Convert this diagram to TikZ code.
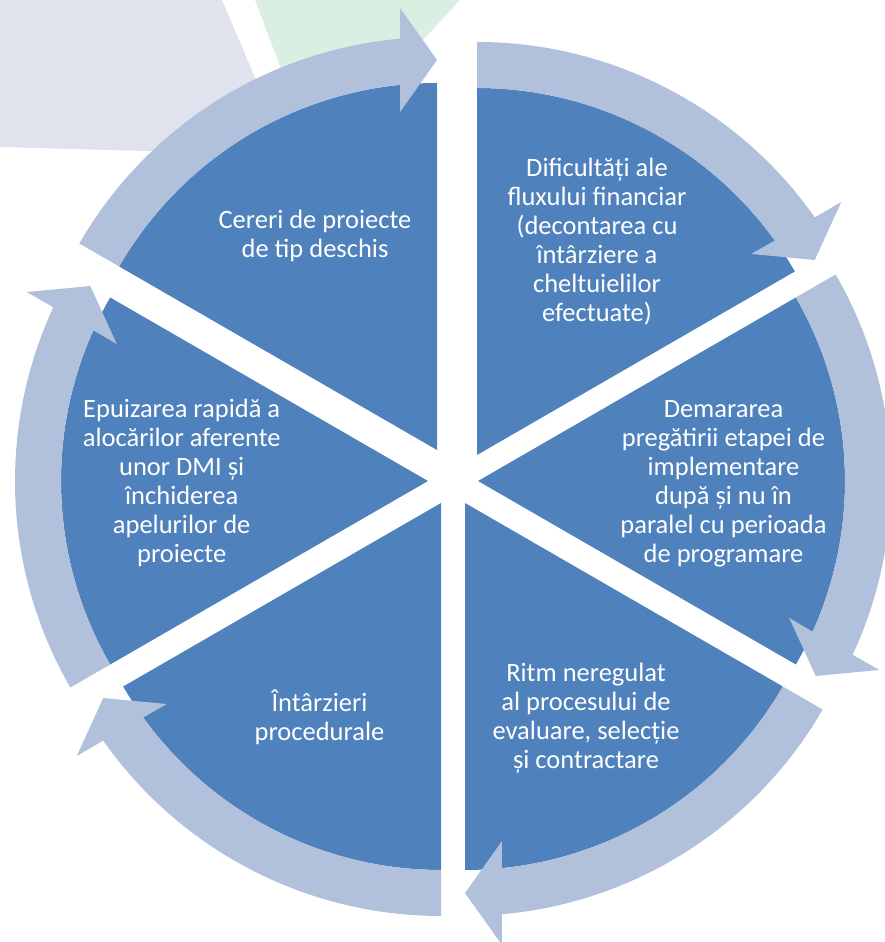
\documentclass[tikz,border=0pt]{standalone}
\usepackage{fontspec}
\setmainfont{Carlito}
\usetikzlibrary{calc}
\definecolor{wedgeblue}{HTML}{4F81BD}
\definecolor{bandblue}{HTML}{B2C1DB}
\definecolor{bggray}{HTML}{E0E3ED}
\definecolor{bggreen}{HTML}{DAEEE2}
\newcommand\mystrut{\rule[-8.7pt]{0pt}{29.1pt}}
\begin{document}
\begin{tikzpicture}[x=1pt,y=1pt,
  wedge/.style={fill=wedgeblue},
  band/.style={fill=bandblue},
  lbl/.style={text=white, align=center, inner sep=0pt,
    font=\fontsize{26.5}{29.1}\selectfont}]
\useasboundingbox (0,0) rectangle (885,942);
\clip (0,0) rectangle (885,942);
% background shapes
\fill[bggray] (0,942) -- (222,942) -- (288,787) -- (0,795) -- cycle;
\fill[bggreen] (255,942) -- (460,942) -- (386,862) -- (289,852) -- cycle;
% wedge apexes
\coordinate (TL) at (437,492);
\coordinate (TR) at (477,487);
\coordinate (R)  at (478,461);
\coordinate (BR) at (465,439);
\coordinate (BL) at (441,439);
\coordinate (L)  at (428,461);
% wedges
\foreach \c/\s in {TR/90, R/30, BR/-30, BL/-90, L/210, TL/150}{
  \pgfmathsetmacro\e{\s-60}
  \fill[wedge] (\c) -- ($(\c)+(\s:367pt)$) arc[start angle=\s, end angle=\e, radius=367pt] -- cycle;
}
% circular arrows
\foreach \c/\s in {TR/90, R/30, BR/-30, BL/-90, L/210, TL/150}{
  \pgfmathsetmacro\e{\s-60}
  \pgfmathsetmacro\eo{\e+5.12}
  \pgfmathsetmacro\ei{\e+5.76}
  \pgfmathsetmacro\ep{\e+90}
  \fill[band] ($(\c)+(\s:413pt)$) arc[start angle=\s, end angle=\eo, radius=413pt]
    -- ($(\c)+(\e:442pt)+(\ep:37pt)$) -- ($(\c)+(\e:390pt)$)
    -- ($(\c)+(\e:338pt)+(\ep:37pt)$) -- ($(\c)+(\ei:367pt)$)
    arc[start angle=\ei, end angle=\s, radius=367pt] -- cycle;
}
% labels
\node[lbl] (t1) at (315,704.5) {\mystrut Cereri de proiecte\\de tip deschis\mystrut};
\node[lbl] (t2) at (597,699) {\mystrut Dificultăți ale\\fluxului financiar\\(decontarea cu\\întârziere a\\cheltuielilor\\efectuate)\mystrut};
\node[lbl] (t3) at (723.5,458) {\mystrut Demararea\\pregătirii etapei de\\implementare\\după și nu în\\paralel cu perioada\\de programare\mystrut};
\node[lbl] (t4) at (586,222.5) {\mystrut Ritm neregulat\\al procesului de\\evaluare, selecție\\și contractare\mystrut};
\node[lbl] (t5) at (319.5,222.5) {\mystrut Întârzieri\\procedurale\mystrut};
\node[lbl] (t6) at (181.7,458) {\mystrut Epuizarea rapidă a\\alocărilor aferente\\unor DMI și\\închiderea\\apelurilor de\\proiecte\mystrut};
\end{tikzpicture}
\end{document}
